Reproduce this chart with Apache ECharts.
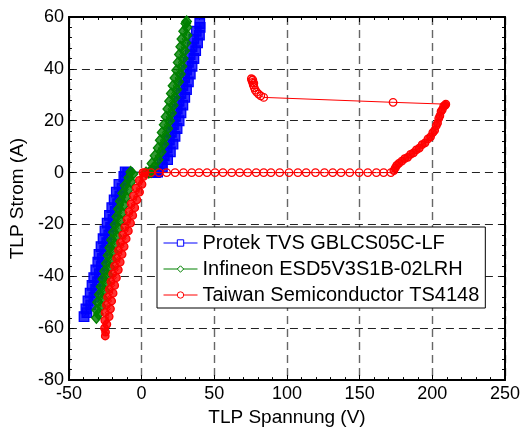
<!DOCTYPE html>
<html><head><meta charset="utf-8">
<script src="https://cdn.jsdelivr.net/npm/echarts@6/dist/echarts.min.js"></script>
<style>html,body{margin:0;padding:0;background:#fff}#c{width:524px;height:432px}</style>
</head><body><div id="c"></div>
<script>
// ---- axis settings / labels ----
const xMin = -50, xMax = 250, xStep = 50;
const yMin = -80, yMax = 60, yStep = 20;
const xTitle = 'TLP Spannung (V)';
const yTitle = 'TLP Strom (A)';
const seriesNames = ['Protek TVS GBLCS05C-LF', 'Infineon ESD5V3S1B-02LRH', 'Taiwan Semiconductor TS4148'];
const seriesColors = ['#0000ff', '#008000', '#ff0000'];
const seriesFills = ['rgba(0,0,255,0.8)', 'rgba(0,128,0,0.8)', 'rgba(255,0,0,0.8)'];

// ---- Protek (blue squares) [V, A] ----
const protekNeg = [[-39.6,-55.5],[-37.6,-54],[-38.3,-52.5],[-35.0,-51],[-36.9,-49.5],[-32.8,-48],[-35.4,-46.5],[-31.6,-45],[-34.1,-43.5],[-30.3,-42],[-32.9,-40.5],[-29.0,-39],[-31.5,-37.5],[-27.6,-36],[-30.1,-34.5],[-26.9,-33],[-29.3,-31.5],[-25.4,-30],[-27.9,-28.5],[-24.0,-27],[-26.5,-25.5],[-22.6,-24],[-25.2,-22.5],[-21.3,-21],[-23.7,-19.5],[-19.7,-18],[-22.1,-16.5],[-18.1,-15],[-20.5,-13.5],[-16.5,-12],[-18.9,-10.5],[-15.0,-9],[-17.4,-7.5],[-13.4,-6],[-15.6,-4.5],[-11.4,-3],[-12.2,-1.5],[-9.6,0],[-11.3,0.3]];
const protekPos = [[8,0],[9.5,0],[11,0.2],[11.0,0.5],[14.3,2],[14.1,3.5],[17.9,5],[15.6,6.5],[19.8,8],[17.6,9.5],[21.6,11],[19.1,12.5],[23.0,14],[20.5,15.5],[24.4,17],[21.9,18.5],[25.8,20],[23.3,21.5],[27.1,23],[24.5,24.5],[28.4,26],[25.8,27.5],[29.7,29],[27.1,30.5],[30.9,32],[28.4,33.5],[32.2,35],[29.6,36.5],[33.5,38],[30.9,39.5],[34.7,41],[32.2,42.5],[36.0,44],[33.4,45.5],[37.2,47],[34.7,48.5],[38.5,50],[35.9,51.5],[39.8,53],[37.6,54.5],[40.3,56],[40.0,57.5]];

// ---- Infineon (green diamonds) [V, A] ----
const infineonNeg = [[-31.1,-56],[-29.7,-54.5],[-30.9,-53],[-27.7,-51.5],[-30.3,-50],[-26.5,-48.5],[-29.1,-47],[-25.3,-45.5],[-27.9,-44],[-24.1,-42.5],[-26.7,-41],[-22.9,-39.5],[-25.5,-38],[-21.7,-36.5],[-24.3,-35],[-20.5,-33.5],[-23.1,-32],[-19.3,-30.5],[-21.9,-29],[-18.1,-27.5],[-20.7,-26],[-16.9,-24.5],[-19.5,-23],[-15.7,-21.5],[-18.3,-20],[-14.5,-18.5],[-17.1,-17],[-13.3,-15.5],[-15.9,-14],[-12.1,-12.5],[-14.7,-11],[-10.7,-9.5],[-13.0,-8],[-9.0,-6.5],[-11.4,-5],[-7.3,-3.5],[-8.8,-2],[-6.0,-0.5],[-7.5,0.2]];
const infineonPos = [[3,0],[5,0],[6.5,0.2],[6.2,0.5],[8.5,2],[7.1,3.5],[11.4,5],[9.2,6.5],[13.5,8],[11.4,9.5],[15.3,11],[12.8,12.5],[16.7,14],[14.1,15.5],[18.0,17],[15.5,18.5],[19.3,20],[16.8,21.5],[20.6,23],[18.0,24.5],[21.8,26],[19.2,27.5],[23.0,29],[20.4,30.5],[24.2,32],[21.6,33.5],[25.5,35],[22.9,36.5],[26.7,38],[24.1,39.5],[27.8,41],[25.1,42.5],[28.7,44],[26.0,45.5],[29.6,47],[26.9,48.5],[30.5,50],[27.7,51.5],[31.3,53],[28.9,54.5],[31.2,56],[30.4,57.5],[31.0,58.3]];

// ---- Taiwan Semiconductor (red circles) [V, A] ----
const taiwanNeg = [[-25.0,-63],[-24.8,-61.5],[-25.5,-60],[-23.9,-58.5],[-25.3,-57],[-22.3,-55.5],[-25.1,-54],[-21.4,-52.5],[-24.2,-51],[-20.6,-49.5],[-23.4,-48],[-19.6,-46.5],[-22.2,-45],[-18.5,-43.5],[-21.1,-42],[-17.3,-40.5],[-19.9,-39],[-16.0,-37.5],[-18.6,-36],[-14.7,-34.5],[-17.2,-33],[-13.4,-31.5],[-15.9,-30],[-12.0,-28.5],[-14.5,-27],[-10.6,-25.5],[-13.0,-24],[-9.1,-22.5],[-11.5,-21],[-7.6,-19.5],[-10.0,-18],[-6.1,-16.5],[-8.6,-15],[-4.7,-13.5],[-7.2,-12],[-3.2,-10.5],[-5.6,-9],[-1.4,-7.5],[-3.8,-6],[0.3,-4.5],[-1.6,-3],[1.4,-1.5],[0.9,0]];
const taiwanFlat = [[2.5,0],[6.5,0],[12,0],[17.2,0],[23,0],[28.8,0],[34.5,0],[39.5,0],[45,0],[50.5,0],[56,0],[62,0],[67.5,0],[73,0],[78.8,0],[84,0],[89,0],[95,0],[101.4,0],[107.5,0],[113.2,0],[119.6,0],[125.8,0],[131.5,0],[137.2,0],[143.2,0],[149.7,0],[155.6,0],[161.5,0],[166.5,0],[171.5,0]];
const taiwanRise = [[173.5,0.8],[174.5,1.8],[175.5,2.8],[177,3.6],[179,4.4],[181,5.4],[183,5.9],[185,7.0],[187,7.6],[189,8.8],[191,9.4],[193,10.8],[195,11.5],[197,13.0],[198.8,13.8],[200.3,15.4],[201.6,16.3],[202.7,18.1],[203.6,19.1],[204.4,20.9],[205.2,21.9],[206,23.6],[206.9,24.3],[207.8,25.6],[208.8,25.9],[209.3,26.4]];
const taiwanSnap = [[173,27.1],[84,29],[82,29.6],[80.5,30.3],[79.2,31],[78.2,31.8],[77.5,32.8],[76.8,33.8],[76.3,34.8],[75.8,35.6],[75.5,36.2],[76.5,35.8],[77.2,34.5]];

const FONT = 'Liberation Sans';
const chart = echarts.init(document.getElementById('c'), null, {renderer: 'canvas'});

// dense parts get a translucent fill (overlapping markers look solid), sparse parts stay hollow
function dense(arr, i) { return arr.map(p => ({value: p, itemStyle: {color: seriesFills[i]}})); }
function hollow(arr) { return arr.map(p => ({value: p})); }

const protekData = dense(protekNeg, 0).concat(dense(protekPos, 0));
const infineonData = dense(infineonNeg, 1).concat(dense(infineonPos, 1));
const taiwanData = dense(taiwanNeg, 2).concat(hollow(taiwanFlat), dense(taiwanRise, 2), hollow(taiwanSnap));

function mkSeries(i, data, symbol, size) {
  return {
    name: seriesNames[i], type: 'line', data: data,
    symbol: symbol, symbolSize: size, showSymbol: true,
    lineStyle: {color: seriesColors[i], width: 1},
    itemStyle: {color: 'rgba(255,255,255,0)', borderColor: seriesColors[i], borderWidth: 1.3},
    emphasis: {disabled: true}, animation: false, z: 3 + i
  };
}

const baseAxisLine = {show: true, onZero: false, lineStyle: {color: '#000', width: 2}};
const tick = {show: true, inside: true, length: 5, lineStyle: {color: '#000', width: 1}};
const minor = {show: true, splitNumber: 5, length: 3, lineStyle: {color: '#000', width: 1}};
chart.setOption({
  animation: false,
  backgroundColor: '#fff',
  grid: {left: 67, right: 19, top: 17, bottom: 46},
  legend: {
    orient: 'vertical', left: 157, top: 227,
    backgroundColor: '#fff', borderColor: '#000', borderWidth: 1,
    padding: [6, 6, 3, 6], itemGap: 6, itemWidth: 34, itemHeight: 8,
    textStyle: {fontFamily: FONT, fontSize: 20, color: '#000'},
    lineStyle: {width: 1},
    selectedMode: false,
    data: seriesNames.map((n, i) => ({name: n, itemStyle: {color: '#fff', borderColor: seriesColors[i], borderWidth: 1}, lineStyle: {width: 1, color: seriesColors[i]}}))
  },
  xAxis: [{
    type: 'value', min: xMin, max: xMax, interval: xStep, position: 'bottom',
    name: xTitle, nameLocation: 'middle', nameGap: 26,
    nameTextStyle: {fontFamily: FONT, fontSize: 19, color: '#000'},
    axisLine: baseAxisLine, axisTick: tick, minorTick: minor,
    axisLabel: {fontFamily: FONT, fontSize: 18, color: '#000', margin: 5},
    splitLine: {show: true, lineStyle: {color: '#666', width: 1.4, type: [8, 5]}}
  }, {
    type: 'value', min: xMin, max: xMax, interval: xStep, position: 'top',
    axisLine: baseAxisLine, axisTick: tick, minorTick: minor,
    axisLabel: {show: false}, splitLine: {show: false}
  }],
  yAxis: [{
    type: 'value', min: yMin, max: yMax, interval: yStep, position: 'left',
    name: yTitle, nameLocation: 'middle', nameGap: 38,
    nameTextStyle: {fontFamily: FONT, fontSize: 19, color: '#000'},
    axisLine: baseAxisLine, axisTick: tick, minorTick: minor,
    axisLabel: {fontFamily: FONT, fontSize: 18, color: '#000', margin: 5},
    splitLine: {show: true, lineStyle: {color: '#222', width: 1, type: [8, 5]}}
  }, {
    type: 'value', min: yMin, max: yMax, interval: yStep, position: 'right',
    axisLine: baseAxisLine, axisTick: tick, minorTick: minor,
    axisLabel: {show: false}, splitLine: {show: false}
  }],
  series: [
    mkSeries(0, protekData, 'rect', 9.5),
    mkSeries(1, infineonData, 'diamond', [9.5, 11]),
    mkSeries(2, taiwanData, 'circle', 7.5)
  ]
});
</script>
</body></html>
